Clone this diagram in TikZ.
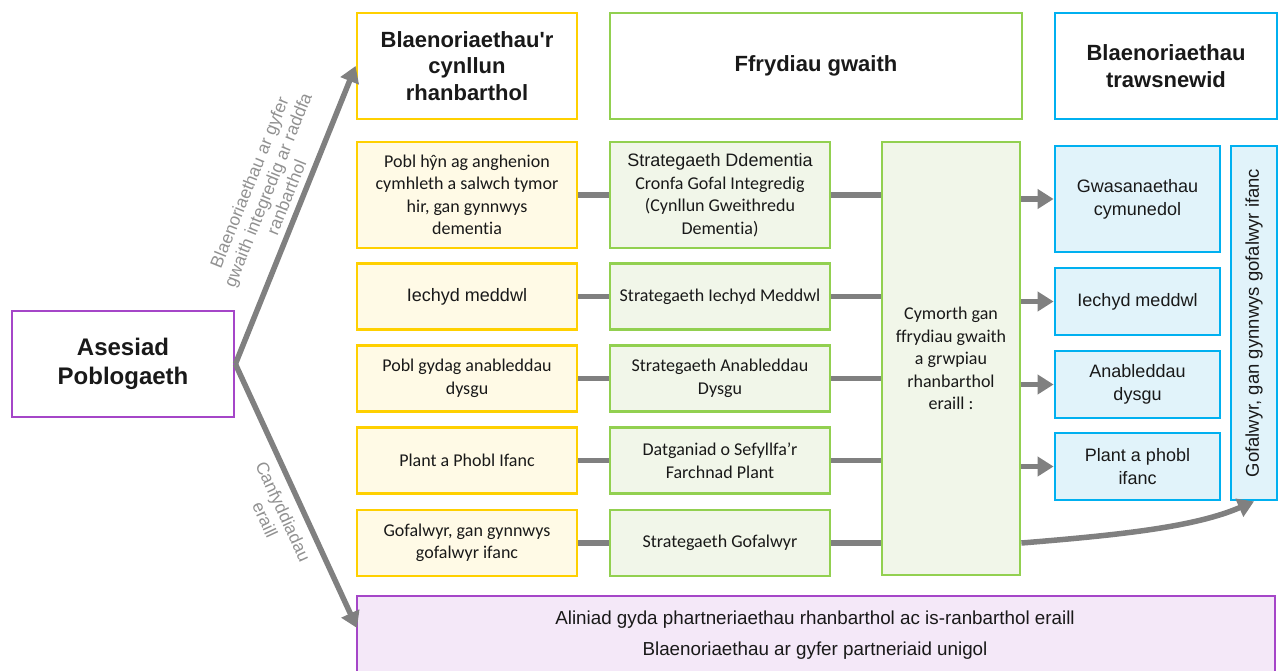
\documentclass[tikz,border=0pt]{standalone}
\usepackage{fontspec}
\setmainfont{Liberation Sans}[Ligatures=TeXOff]
\newfontfamily\calfont{Carlito}[Ligatures=NoCommon]
\usetikzlibrary{arrows.meta}
\definecolor{ybd}{RGB}{255,208,0}
\definecolor{yfl}{RGB}{255,250,230}
\definecolor{gbd}{RGB}{146,208,80}
\definecolor{gfl}{RGB}{241,246,233}
\definecolor{bbd}{RGB}{0,176,240}
\definecolor{bfl}{RGB}{225,243,250}
\definecolor{pbd}{RGB}{165,70,200}
\definecolor{pfl}{RGB}{244,232,248}
\definecolor{cgray}{RGB}{128,128,128}
\definecolor{lgray}{RGB}{145,145,145}
\definecolor{txt}{RGB}{25,25,25}
\begin{document}
\begin{tikzpicture}[x=1pt,y=-1pt,
  box/.style={draw, line width=2.8pt, align=center, inner sep=3pt, text=txt},
  ybox/.style={box, draw=ybd, fill=yfl, minimum width=220pt},
  yhead/.style={box, draw=ybd, fill=white, minimum width=220pt},
  gbox/.style={box, draw=gbd, fill=gfl, minimum width=220pt},
  ghead/.style={box, draw=gbd, fill=white},
  bbox/.style={box, draw=bbd, fill=bfl, minimum width=165pt},
  bhead/.style={box, draw=bbd, fill=white, minimum width=222pt},
  abox/.style={box, draw=pbd, fill=white},
  pbox/.style={box, draw=pbd, fill=pfl},
  fA/.style={font=\fontsize{18}{23}\selectfont},
  fC/.style={font=\calfont\fontsize{18}{22.5}\selectfont},
  fH/.style={font=\bfseries\fontsize{22}{26.5}\selectfont},
  conn/.style={draw=cgray, line width=5.5pt},
  arr/.style={conn, -{Triangle[length=16pt,width=19pt]}},
  lab/.style={text=lgray, font=\fontsize{17.5}{20}\selectfont, align=center, inner sep=1pt},
  ptext/.style={text=txt, font=\fontsize{18.8}{22}\selectfont},
]
\clip (0,0) rectangle (1285,670);

\node[abox, minimum width=222, minimum height=106, font=\bfseries\fontsize{24}{29}\selectfont] (ases) at (123,364) {Asesiad\\Poblogaeth};

% yellow column
\node[yhead, minimum height=106, fH] (yh) at (467,66) {Blaenoriaethau'r\\cynllun\\rhanbarthol};
\node[ybox, minimum height=106, fC] (y1) at (467,195) {Pobl hŷn ag anghenion\\cymhleth a salwch tymor\\hir, gan gynnwys\\dementia};
\node[ybox, minimum height=66, fA] (y2) at (467,296.5) {Iechyd meddwl};
\node[ybox, minimum height=66, fC] (y3) at (467,378.5) {Pobl gydag anableddau\\dysgu};
\node[ybox, minimum height=66, fC] (y4) at (467,460.5) {Plant a Phobl Ifanc};
\node[ybox, minimum height=66, fC] (y5) at (467,543) {Gofalwyr, gan gynnwys\\gofalwyr ifanc};

% green column
\node[ghead, minimum width=412, minimum height=106, fH] (gh) at (816,66) {Ffrydiau gwaith};
\node[gbox, minimum height=106, fC] (g1) at (720,195) {{\rmfamily\fontsize{18}{23}\selectfont Strategaeth Ddementia}\\Cronfa Gofal Integredig\\(Cynllun Gweithredu\\Dementia)};
\node[gbox, minimum height=66, fC] (g2) at (720,296.5) {Strategaeth Iechyd Meddwl};
\node[gbox, minimum height=66, fC] (g3) at (720,378.5) {Strategaeth Anableddau\\Dysgu};
\node[gbox, minimum height=66, fC] (g4) at (720,460.5) {Datganiad o Sefyllfa’r\\Farchnad Plant};
\node[gbox, minimum height=66, fC] (g5) at (720,543) {Strategaeth Gofalwyr};

\node[gbox, minimum width=138, minimum height=433, fC] (cym) at (951,358.5) {Cymorth gan\\ffrydiau gwaith\\a grwpiau\\rhanbarthol\\eraill :};

% blue column
\node[bhead, minimum height=106, fH] (bh) at (1166,66) {Blaenoriaethau\\trawsnewid};
\node[bbox, minimum height=106, fA] (b1) at (1137.5,199) {Gwasanaethau\\cymunedol};
\node[bbox, minimum height=67, fA] (b2) at (1137.5,301.5) {Iechyd meddwl};
\node[bbox, minimum height=67, fA] (b3) at (1137.5,384.5) {Anableddau\\dysgu};
\node[bbox, minimum height=67, fA] (b4) at (1137.5,466.5) {Plant a phobl\\ifanc};
\node[box, draw=bbd, fill=bfl, minimum width=354, minimum height=46, rotate=90, font=\fontsize{18.5}{22}\selectfont] (vert) at (1254,323) {Gofalwyr, gan gynnwys gofalwyr ifanc};

% purple bottom
\node[pbox, minimum width=918, minimum height=110] (pur) at (816,651) {};
\node[ptext] (p1) at (815,620) {Aliniad gyda phartneriaethau rhanbarthol ac is-ranbarthol eraill};
\node[ptext] (p2) at (815,651) {Blaenoriaethau ar gyfer partneriaid unigol};
\coordinate (pin) at (357,628);

% connectors
\foreach \i in {1,...,5} {
  \draw[conn] (y\i.east) -- (g\i.west);
  \draw[conn] (g\i.east) -- (g\i.east -| cym.west);
}
\foreach \i in {1,...,4} {
  \draw[arr] (cym.east |- b\i) -- (b\i.west);
}
\draw[arr] (g5.east -| cym.east) .. controls (1120,535) and (1195,527) .. (vert.west);

\draw[arr] (ases.east) -- (yh.west) node[lab, sloped, pos=0.54, above=5pt] {Blaenoriaethau ar gyfer\\gwaith integredig ar raddfa\\ranbarthol};
\draw[arr] (ases.east) -- (pin) node[lab, sloped, pos=0.53, below=8pt] {Canfyddiadau\\eraill};
\end{tikzpicture}
\end{document}
